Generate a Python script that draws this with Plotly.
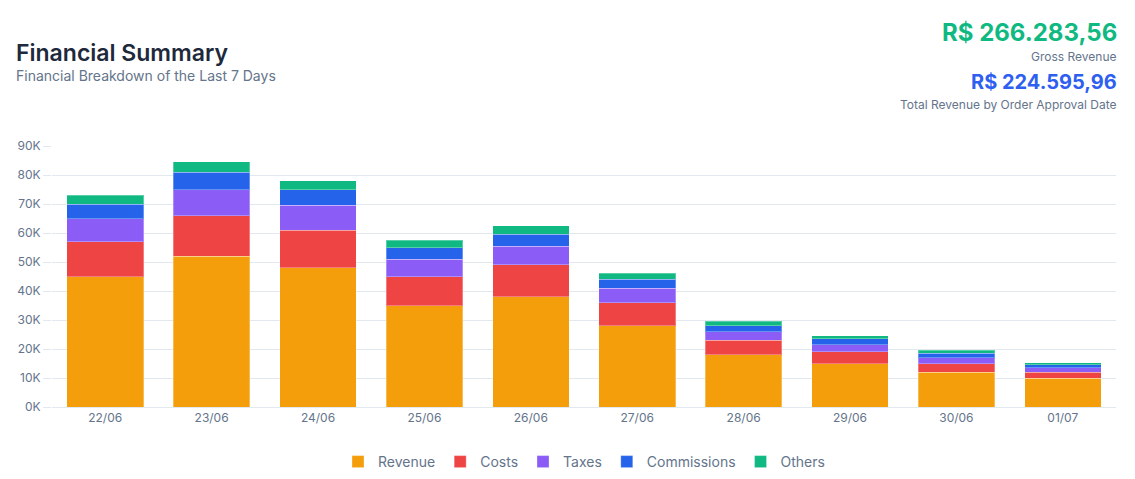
import plotly.graph_objects as go

dates = ["22/06", "23/06", "24/06", "25/06", "26/06", "27/06", "28/06", "29/06", "30/06", "01/07"]
revenue = [45000, 52000, 48000, 35000, 38000, 28000, 18000, 15000, 12000, 10000]
costs = [12000, 14000, 13000, 10000, 11000, 8000, 5000, 4000, 3000, 2000]
taxes = [8000, 9000, 8500, 6000, 6500, 5000, 3000, 2500, 2000, 1500]
commissions = [5000, 6000, 5500, 4000, 4000, 3000, 2000, 2000, 1500, 1000]
others = [3000, 3500, 3000, 2500, 3000, 2200, 1500, 1000, 1000, 800]

series = [
    ("Revenue", revenue, "#f59e0b"),
    ("Costs", costs, "#ef4444"),
    ("Taxes", taxes, "#8b5cf6"),
    ("Commissions", commissions, "#2563eb"),
    ("Others", others, "#10b981"),
]

W, H = 1135, 479
OFF = 8  # page body margin
# plot area in page pixels
PL, PR, PT, PB = 51.5, 1116, 146, 407
L = PL - OFF
R = W - (PR - OFF)
T = PT - OFF
B = H - (PB - OFF)
pw, ph = W - L - R, H - T - B

def px(x):
    return (x - OFF - L) / pw

def py(y):
    return (H - B - (y - OFF)) / ph

fig = go.Figure()
for name, vals, color in series:
    fig.add_trace(go.Bar(
        x=dates, y=vals, name=name,
        marker=dict(color=color, line=dict(color="rgba(255,255,255,0.3)", width=1)),
    ))

font = "Inter, 'Noto Sans', sans-serif"
annotations = [
    dict(text="Financial Summary", x=px(13), y=py(53), xanchor="left", yanchor="middle",
         font=dict(size=23, color="#1e293b", family=font, weight=600)),
    dict(text="Financial Breakdown of the Last 7 Days", x=px(13), y=py(76), xanchor="left", yanchor="middle",
         font=dict(size=14, color="#64748b", family=font)),
    dict(text="R$ 266.283,56", x=px(1119), y=py(32), xanchor="right", yanchor="middle",
         font=dict(size=24, color="#10b981", family=font, weight=700)),
    dict(text="Gross Revenue", x=px(1119), y=py(56), xanchor="right", yanchor="middle",
         font=dict(size=12, color="#64748b", family=font)),
    dict(text="R$ 224.595,96", x=px(1119), y=py(82), xanchor="right", yanchor="middle",
         font=dict(size=20, color="#2f5ff0", family=font, weight=700)),
    dict(text="Total Revenue by Order Approval Date", x=px(1119), y=py(104), xanchor="right", yanchor="middle",
         font=dict(size=12, color="#64748b", family=font)),
]
for a in annotations:
    a.update(xref="paper", yref="paper", showarrow=False)

fig.update_layout(
    width=W, height=H,
    margin=dict(l=L, r=R, t=T, b=B, autoexpand=False),
    barmode="stack", bargap=0.28,
    paper_bgcolor="white", plot_bgcolor="white",
    font=dict(family=font, color="#64748b", size=12),
    annotations=annotations,
    showlegend=True,
    legend=dict(orientation="h", x=0.5, xanchor="center", y=py(462), yanchor="middle",
                font=dict(size=14, color="#64748b"), itemwidth=30, traceorder="normal"),
    xaxis=dict(showgrid=False, showline=True, linecolor="#e2e8f0", ticks="",
               tickfont=dict(size=12, color="#64748b"), fixedrange=True),
    yaxis=dict(range=[0, 90000], tickvals=[0, 10000, 20000, 30000, 40000, 50000, 60000, 70000, 80000, 90000],
               ticktext=["0K", "10K", "20K", "30K", "40K", "50K", "60K", "70K", "80K", "90K"],
               showgrid=True, gridcolor="#e2e8f0", gridwidth=1, zeroline=False,
               ticks="outside", ticklen=8, tickcolor="#e2e8f0",
               tickfont=dict(size=12, color="#64748b"), fixedrange=True),
)

fig.write_html("out.html", config={"displayModeBar": False})
